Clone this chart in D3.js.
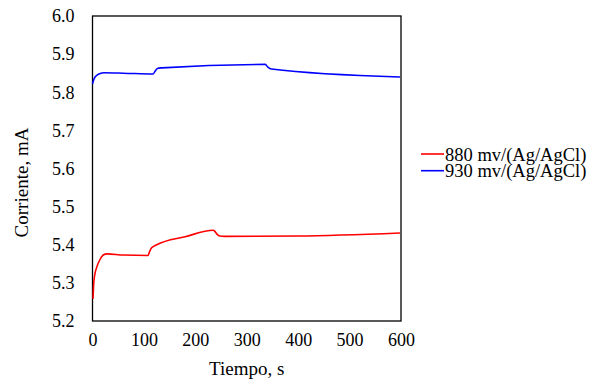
<!DOCTYPE html>
<html>
<head>
<meta charset="utf-8">
<script src="https://cdn.jsdelivr.net/npm/d3@7/dist/d3.min.js"></script>
<style>
  html, body { margin: 0; padding: 0; background: #fff; }
  svg { display: block; }
</style>
</head>
<body>
<svg id="chart" width="592" height="381"></svg>
<script>
// Current vs. time at two applied potentials
const seriesNames = ["880 mv/(Ag/AgCl)", "930 mv/(Ag/AgCl)"];
const seriesColors = ["#ff0000", "#0000ff"];

const time880 = [1, 2, 4, 8, 14, 21, 28, 60, 108, 111, 115, 125, 180, 235, 238, 242, 248, 256, 400, 598];
const current880 = [5.258, 5.290, 5.318, 5.340, 5.360, 5.373, 5.376, 5.373, 5.372, 5.382, 5.392, 5.400, 5.421, 5.438, 5.435, 5.428, 5.423, 5.422, 5.423, 5.431];

const time930 = [0, 3, 8, 15, 22, 60, 118, 122, 127, 135, 336, 341, 348, 598];
const current930 = [5.822, 5.835, 5.844, 5.849, 5.851, 5.850, 5.848, 5.856, 5.863, 5.864, 5.873, 5.866, 5.861, 5.840];

const xTicks = [0, 100, 200, 300, 400, 500, 600];
const yTicks = [5.2, 5.3, 5.4, 5.5, 5.6, 5.7, 5.8, 5.9, 6.0];

const FONT = "'Liberation Serif', 'Times New Roman', serif";

const svg = d3.select("#chart");
const plot = { left: 92.5, right: 401, top: 16, bottom: 321 };

const x = d3.scaleLinear().domain([0, 600]).range([plot.left, plot.right]);
const y = d3.scaleLinear().domain([5.2, 6.0]).range([plot.bottom, plot.top]);

// Axes (labels only, no tick marks)
const xAxis = svg.append("g")
  .attr("transform", `translate(0,${plot.bottom})`)
  .call(d3.axisBottom(x).tickValues(xTicks).tickSize(0).tickPadding(12).tickFormat(d3.format("d")));
xAxis.attr("font-family", FONT).attr("font-size", 18);
xAxis.select(".domain").remove();
xAxis.selectAll("text").attr("font-family", FONT).attr("font-size", 18).attr("fill", "#000");

const yAxis = svg.append("g")
  .attr("transform", `translate(${plot.left},0)`)
  .call(d3.axisLeft(y).tickValues(yTicks).tickSize(0).tickPadding(18).tickFormat(d3.format(".1f")));
yAxis.attr("font-family", FONT).attr("font-size", 18);
yAxis.select(".domain").remove();
yAxis.selectAll("text").attr("font-family", FONT).attr("font-size", 18).attr("fill", "#000");

// Plot frame
svg.append("rect")
  .attr("x", plot.left).attr("y", plot.top)
  .attr("width", plot.right - plot.left).attr("height", plot.bottom - plot.top)
  .attr("fill", "none").attr("stroke", "#000").attr("stroke-width", 1.3);

const line = d3.line()
  .x(d => x(d[0]))
  .y(d => y(d[1]))
  .curve(d3.curveMonotoneX);

const series = [
  d3.zip(time880, current880),
  d3.zip(time930, current930)
];

series.forEach((pts, i) => {
  svg.append("path")
    .datum(pts)
    .attr("d", line)
    .attr("fill", "none")
    .attr("stroke", seriesColors[i])
    .attr("stroke-width", 1.6);
});

// Axis titles
svg.append("text")
  .attr("x", (plot.left + plot.right) / 2)
  .attr("y", 375)
  .attr("text-anchor", "middle")
  .attr("font-family", FONT)
  .attr("font-size", 19)
  .text("Tiempo, s");

svg.append("text")
  .attr("transform", `translate(28,${(plot.top + plot.bottom) / 2 + 14}) rotate(-90)`)
  .attr("text-anchor", "middle")
  .attr("font-family", FONT)
  .attr("font-size", 19)
  .text("Corriente, mA");

// Legend
const legend = svg.append("g");
seriesNames.forEach((name, i) => {
  const ly = 154 + i * 16.7;
  legend.append("line")
    .attr("x1", 421).attr("x2", 444)
    .attr("y1", ly).attr("y2", ly)
    .attr("stroke", seriesColors[i]).attr("stroke-width", 1.6);
  legend.append("text")
    .attr("x", 445).attr("y", ly + 6.5)
    .attr("font-family", FONT)
    .attr("font-size", 18.5)
    .text(name);
});
</script>
</body>
</html>
